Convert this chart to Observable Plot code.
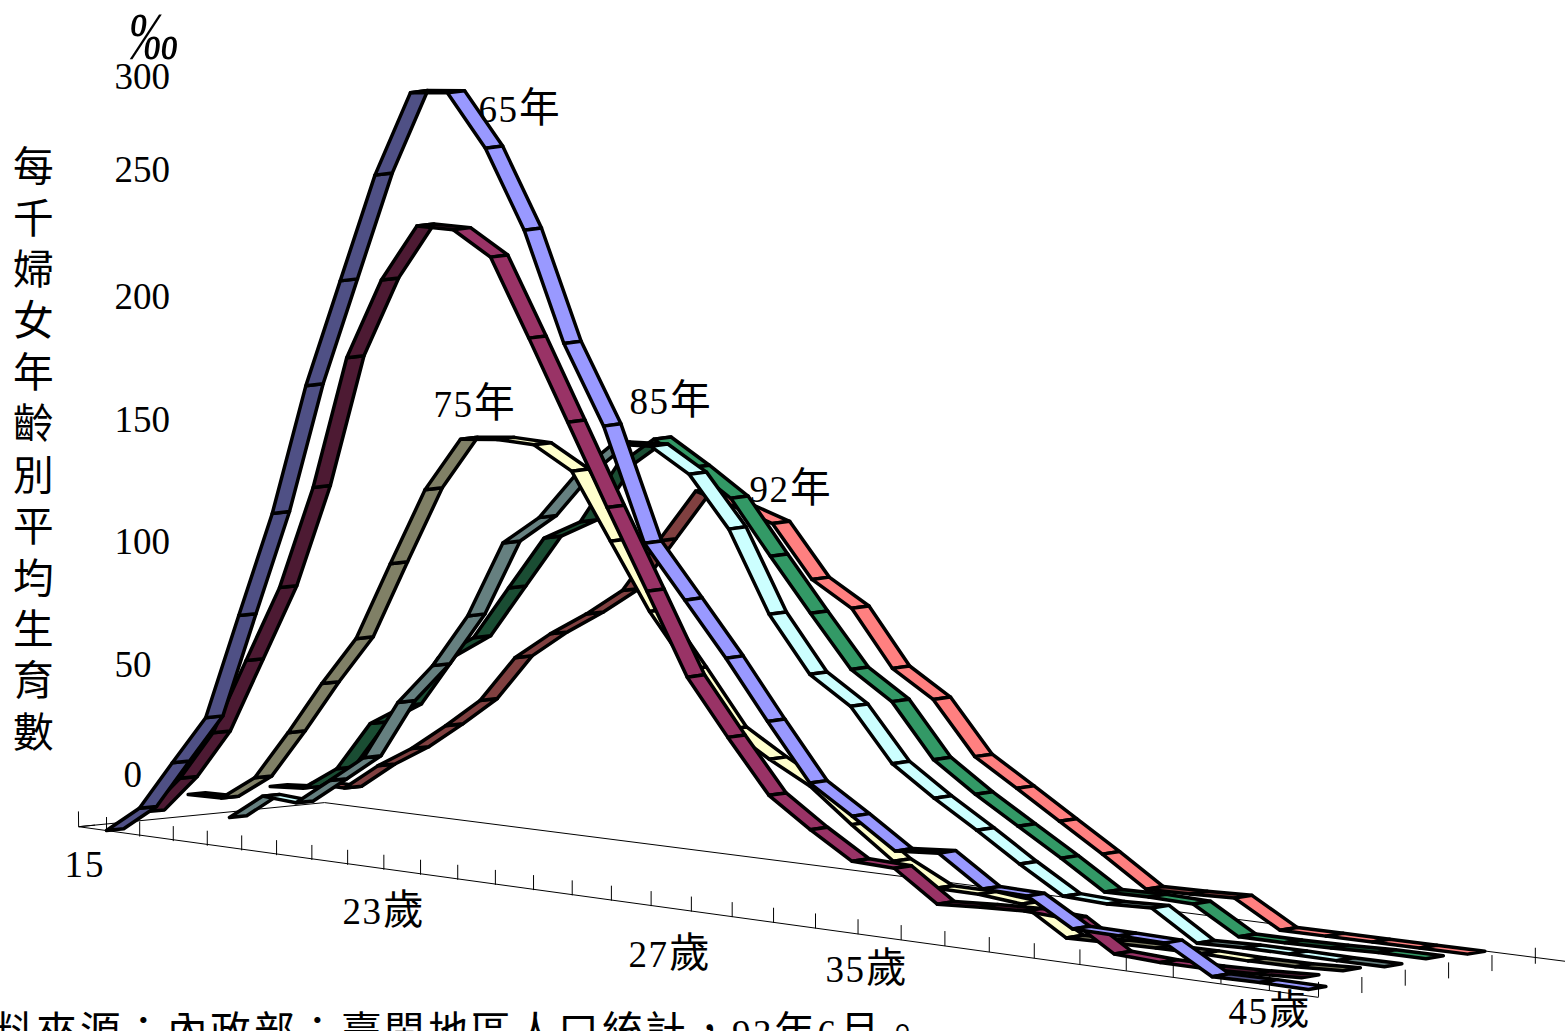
<!DOCTYPE html>
<html lang="zh-Hant">
<head>
<meta charset="utf-8">
<title>每千婦女年齡別平均生育數</title>
<script src="https://cdn.jsdelivr.net/npm/d3@7"></script>
<script src="https://cdn.jsdelivr.net/npm/@observablehq/plot@0.6"></script>
<style>
@font-face{font-family:"CJKWide";src:local("Noto Sans CJK TC"),local("Noto Sans CJK TC Regular");size-adjust:110%;}
html,body{margin:0;padding:0;background:#fff;overflow:hidden;}
#chart{width:1565px;height:1031px;overflow:hidden;}
</style>
</head>
<body>
<div id="chart"></div>
<script>
// Ages on the front axis
const ages = [15,16,17,18,19,20,21,22,23,24,25,26,27,28,29,30,31,32,33,34,35,36,37,38,39,40,41,42,43,44,45];

// Age-specific birth rates (per thousand women)
const rate65 = [0,10.5,30.1,49.6,91.5,133.4,185.4,228.4,271.8,306.1,308,288.3,258.2,215.8,185.5,141.7,121.5,100.9,78.3,56.4,45.7,34.3,35.8,24.1,23.8,13.3,13.1,12.8,2.1,2.4,2.3];
const rate70 = [5.8,20.6,40.2,70.3,100.7,141.8,194.5,226.9,249.9,250.4,241.6,211.8,180.8,149.4,118.6,87,65.5,44.9,33.6,23.4,22.9,11.1,12.2,13,12.2,0.9,0,0,0.6,1.6];
const rate75 = [10.9,11.2,20.9,40.3,61.3,80.7,111.9,142.7,164.4,166.2,166,157.6,132.1,106.5,85.9,64.4,54.7,46.2,33.3,21.1,12.7,12.6,11,0,0.4,0.7,0.9,0.5,0.7,1.6];
const rate80 = [0.3,10.3,9.4,19.8,30.5,53.9,70.1,91.4,121.8,133.6,152.2,166.2,167.3,158.2,138.7,107.3,85.8,75.3,54.9,43.5,33.1,22,11.6,10.8,11.5,0,0.6,0.6,0.4,0.5];
const rate85 = [10.8,11.8,21,40.4,49.1,69.7,79.2,100.5,121.8,130,153.7,166.1,156.9,146.7,125.9,105.5,85.5,74.9,54.2,42.7,32.3,21.9,10.8,11.1,10.6,0,0,0.3,0.9,0.9];
const rate92 = [10.4,10.2,20.5,28.9,39.5,51.1,69.5,80.6,90.1,101.1,122.4,143.7,139.6,134.7,114.7,105.3,83.7,73.5,53.1,42.7,31.9,21.1,9.5,9.8,10.4,0,0,0,0,0];

const seriesRates = [rate65, rate70, rate75, rate80, rate85, rate92];
const topColors  = ["#9999ff","#993366","#ffffcc","#ccffff","#339966","#ff8080"];
const sideColors = ["#4f5085","#4d1a33","#808066","#668080","#1a4d33","#804040"];

const yTickLabels = ["300","250","200","150","100","50","0"];
const yTitle = "每千婦女年齡別平均生育數".split("").join("\n");
const caption = "資料來源：內政部：臺閩地區人口統計，93年6月。";

// Oblique perspective: (age position, series depth, rate) -> chart plane
const VANISH = 0.184, SPAN = 30, RIBBON = 0.42;
function frontX(t){ const u = t/SPAN; return 106 + 1212*u*(1-VANISH)/(1-VANISH*u); }
function floorPoint(t, s, v){
  const u = t/SPAN, X = frontX(t);
  return {
    x: X + s*(41+0.5*u) - 0.03*v,
    y: 830 + 0.136*(X-106) - s*(4.1+2.9*u) - 2.55*v
  };
}
function project(t, s, v){
  const u = t/SPAN, p = floorPoint(t, s, v);
  return {x: p.x - 10*u*u, y: p.y};
}

// Ribbon faces, painted back to front
const faces = [];
for (let s = seriesRates.length-1; s >= 0; s--) {
  const r = seriesRates[s];
  for (let t = 0; t < r.length-1; t++) {
    const fill = r[t+1] > r[t] ? sideColors[s] : topColors[s];
    const id = s + "-" + t;
    [[t,s,r[t]],[t+1,s,r[t+1]],[t+1,s+RIBBON,r[t+1]],[t,s+RIBBON,r[t]],[t,s,r[t]]].forEach(([a,b,v]) => {
      faces.push({id, fill, ...project(a,b,v)});
    });
  }
}

// Floor outline and ticks
const cornerT = -0.85;
const floorLines = [
  [floorPoint(cornerT,0,0), floorPoint(30,0,-0.8)],
  [floorPoint(cornerT,0,0), floorPoint(cornerT,6,0)],
  [floorPoint(cornerT,6,0), floorPoint(30,5.95,-3)]
].map(([a,b]) => ({x1:a.x,y1:a.y,x2:b.x,y2:b.y}));
const tickLines = [];
const addTick = (a,b) => tickLines.push({x1:a.x,y1:a.y,x2:b.x,y2:b.y});
addTick(floorPoint(cornerT,0,0), floorPoint(cornerT,0,6));
addTick(floorPoint(cornerT,0,0), floorPoint(cornerT,0.4,0));
ages.forEach((_,t) => { const o = floorPoint(t,0,-0.6); addTick(o, {x:o.x, y:o.y-15}); });
[1,2,3,4,5].forEach(s => { const o = floorPoint(30,s*1.045,0); addTick({x:o.x,y:o.y+5}, {x:o.x,y:o.y-11}); });

// Text placement on the chart plane
const labels = [
  {text:"‰", x:153, y:37, italic:true},
  {text:yTickLabels[0], x:114, y:77},
  {text:yTickLabels[1], x:114, y:170},
  {text:yTickLabels[2], x:114, y:297},
  {text:yTickLabels[3], x:114, y:420},
  {text:yTickLabels[4], x:114, y:542},
  {text:yTickLabels[5], x:114, y:665},
  {text:yTickLabels[6], x:123, y:775},
  {text:"65年", x:478, y:110, wide:1.5},
  {text:"75年", x:433, y:405, wide:1.5},
  {text:"85年", x:629, y:402, wide:1.5},
  {text:"92年", x:749, y:490, wide:1.5},
  {text:"15", x:64, y:865, wide:2},
  {text:"23歲", x:342, y:912, wide:1.5},
  {text:"27歲", x:628, y:955, wide:1.5},
  {text:"35歲", x:825, y:970, wide:1.5},
  {text:"45歲", x:1228, y:1012, wide:1.5},
  {text:caption, x:925, y:1034, end:true, wide:2.5}
];

const FONT = '"Liberation Serif","Times New Roman","CJKWide","Noto Sans CJK TC",serif';
const plain = labels.filter(d => !d.italic && !d.end);

const chart = Plot.plot({
  width:1565, height:1031,
  marginTop:0, marginRight:0, marginBottom:0, marginLeft:0,
  x:{axis:null, domain:[0,1565], range:[0,1565]},
  y:{axis:null, domain:[0,1031], range:[0,1031]},
  color:{type:"identity"},
  style:{background:"white", overflow:"hidden"},
  marks:[
    Plot.link(floorLines, {x1:"x1",y1:"y1",x2:"x2",y2:"y2",stroke:"black",strokeWidth:1}),
    Plot.link(tickLines, {x1:"x1",y1:"y1",x2:"x2",y2:"y2",stroke:"black",strokeWidth:1}),
    Plot.line(faces, {x:"x",y:"y",z:"id",fill:"fill",stroke:"black",strokeWidth:3.5,strokeLinejoin:"round"}),
    Plot.text(plain, {x:"x",y:"y",text:"text",fontSize:37,fontFamily:FONT,fill:"black",textAnchor:"start",lineAnchor:"middle"}),
    Plot.text(labels.filter(d => d.italic), {x:"x",y:"y",text:"text",fontSize:56,fontFamily:FONT,fontStyle:"italic",fill:"black",textAnchor:"middle",lineAnchor:"middle"}),
    Plot.text(labels.filter(d => d.end), {x:"x",y:"y",text:"text",fontSize:37,fontFamily:FONT,fill:"black",textAnchor:"end",lineAnchor:"middle"}),
    Plot.text([{x:33,y:447,text:yTitle}], {x:"x",y:"y",text:"text",fontSize:37,fontFamily:FONT,fill:"black",textAnchor:"middle",lineAnchor:"middle",lineHeight:1.39})
  ]
});
document.getElementById("chart").appendChild(chart);

// Per-label letter spacing and the tall per-mille sign, which Plot's text options do not cover
d3.select(chart).selectAll("text").each(function(){
  const label = labels.find(d => d.text === this.textContent);
  if (!label) return;
  if (label.wide) this.style.letterSpacing = label.wide + "px";
  if (label.italic) {
    const t = this.getAttribute("transform") || "";
    this.setAttribute("transform", t + " scale(0.9,1.22)");
  }
});
</script>
</body>
</html>
